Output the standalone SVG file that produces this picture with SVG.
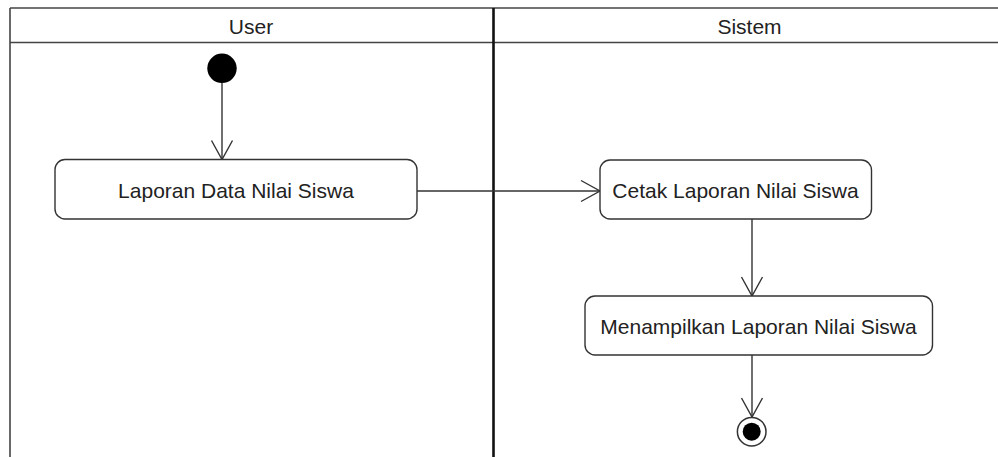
<svg xmlns="http://www.w3.org/2000/svg" width="998" height="457" viewBox="0 0 998 457">
<style>
.lane{fill:none;stroke:#444;stroke-width:1.6}
.div{fill:none;stroke:#111;stroke-width:2.6}
.act{fill:#fff;stroke:#333;stroke-width:1.4}
.t{font-family:"Liberation Sans",Arial,sans-serif;font-size:21px;fill:#222;text-anchor:middle}
.c{fill:none;stroke:#333;stroke-width:1.4}
</style>
<defs>
<marker id="open" markerUnits="userSpaceOnUse" markerWidth="24" markerHeight="24" viewBox="-20 -12 22 24" refX="0" refY="0" orient="auto">
<path d="M-19,-10.5 L0,0 L-19,10.5" fill="none" stroke="#333" stroke-width="1.4"/>
</marker>
</defs>
<rect width="998" height="457" fill="#fff"/>
<g id="swimlanes">
<line class="lane" x1="10" y1="8" x2="998" y2="8"/>
<line class="lane" x1="10" y1="42.5" x2="998" y2="42.5"/>
<line class="lane" x1="10" y1="8" x2="10" y2="457"/>
<line class="div" x1="493.5" y1="8" x2="493.5" y2="457"/>
<text class="t" x="251" y="34.3">User</text>
<text class="t" x="749.5" y="34.3">Sistem</text>
</g>
<g id="connectors">
<line class="c" x1="222" y1="83" x2="222" y2="159.5" marker-end="url(#open)"/>
<line class="c" x1="417" y1="191" x2="600" y2="191" marker-end="url(#open)"/>
<line class="c" x1="752" y1="219" x2="752" y2="296" marker-end="url(#open)"/>
<line class="c" x1="752" y1="355" x2="752" y2="417" marker-end="url(#open)"/>
</g>
<g id="start">
<circle cx="222" cy="68.3" r="14.7" fill="#000"/>
</g>
<g id="act1">
<rect class="act" x="55" y="159.5" width="362" height="59.5" rx="10"/>
<text class="t" x="236" y="198">Laporan Data Nilai Siswa</text>
</g>
<g id="act2">
<rect class="act" x="600" y="160" width="271.5" height="59" rx="10"/>
<text class="t" x="735.5" y="197.5">Cetak Laporan Nilai Siswa</text>
</g>
<g id="act3">
<rect class="act" x="585" y="296" width="347.5" height="59" rx="10"/>
<text class="t" x="758.5" y="334">Menampilkan Laporan Nilai Siswa</text>
</g>
<g id="end">
<circle cx="751.7" cy="431.7" r="14.3" fill="#fff" stroke="#333" stroke-width="1.5"/>
<circle cx="751.7" cy="431.7" r="9" fill="#000"/>
</g>
</svg>
